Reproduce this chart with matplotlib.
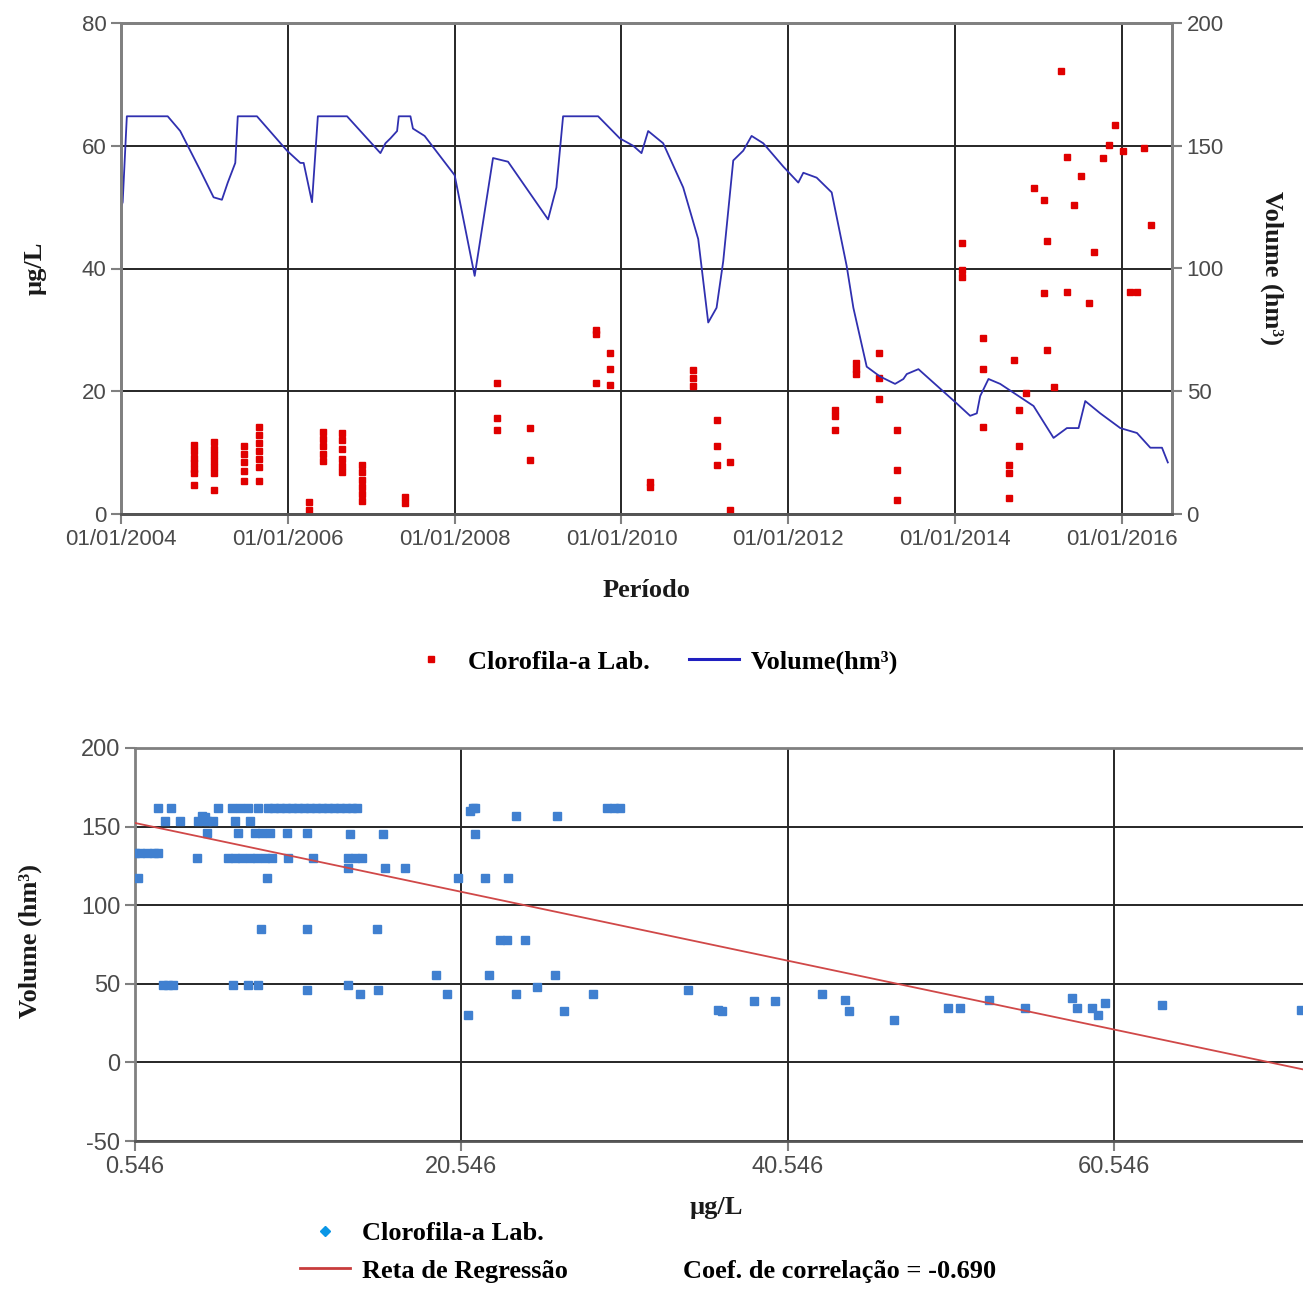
import numpy as np
import matplotlib
matplotlib.use("Agg")
import matplotlib.pyplot as plt
from matplotlib.lines import Line2D

plt.rcParams["axes.unicode_minus"] = False

# reservoir volume (hm3) along time, decimal years
vol_year = [2004.00, 2004.02, 2004.07, 2004.56, 2004.71, 2004.95, 2005.11, 2005.21, 2005.28, 2005.37,
            2005.40, 2005.63, 2005.99, 2006.15, 2006.19, 2006.29, 2006.36, 2006.71, 2007.11, 2007.17,
            2007.23, 2007.31, 2007.33, 2007.47, 2007.50, 2007.64, 2008.00, 2008.24, 2008.46, 2008.64,
            2009.12, 2009.22, 2009.30, 2009.72, 2009.98, 2010.14, 2010.24, 2010.32, 2010.50, 2010.74,
            2010.92, 2011.04, 2011.14, 2011.22, 2011.34, 2011.46, 2011.56, 2011.70, 2011.94, 2012.12,
            2012.18, 2012.34, 2012.52, 2012.70, 2012.78, 2012.94, 2013.10, 2013.28, 2013.38, 2013.42,
            2013.56, 2014.02, 2014.18, 2014.26, 2014.30, 2014.40, 2014.54, 2014.94, 2015.18, 2015.34,
            2015.48, 2015.56, 2015.74, 2015.98, 2016.18, 2016.34, 2016.48, 2016.55]
volume = [125, 127, 162, 162, 156, 140, 129, 128, 135, 143,
          162, 162, 148, 143, 143, 127, 162, 162, 147, 151,
          153, 156, 162, 162, 157, 154, 138, 97, 145, 143.5,
          120, 133, 162, 162, 153, 150, 147, 156, 151, 133,
          112, 78, 84, 103, 144, 148, 154, 151, 141.5, 135,
          139, 137, 131, 101, 84, 60, 56, 53, 55, 57,
          59, 45, 40, 41, 48, 55, 53, 44, 31, 35,
          35, 46, 41, 35, 33, 27, 27, 21]

# lab chlorophyll-a samples (ug/L)
clor_year = ([2004.87] * 7 + [2005.11] * 7 + [2005.47] * 5 + [2005.65] * 7 + [2006.25] * 2
             + [2006.42] * 5 + [2006.65] * 6 + [2006.89] * 6 + [2007.41] * 2
             + [2008.51] * 3 + [2008.90] * 2 + [2009.69] * 3 + [2009.86] * 3 + [2010.34] * 2
             + [2010.86] * 3 + [2011.14] * 3 + [2011.30] * 2 + [2012.56] * 3 + [2012.81] * 3
             + [2013.09] * 3 + [2013.30] * 3 + [2014.08] * 3 + [2014.33] * 3 + [2014.64] * 3
             + [2014.70, 2014.77, 2014.77, 2014.85, 2014.94, 2015.06, 2015.06, 2015.10, 2015.10,
                2015.18, 2015.27, 2015.34, 2015.34, 2015.42, 2015.51, 2015.60, 2015.67, 2015.77,
                2015.85, 2015.92, 2016.01, 2016.10, 2016.18, 2016.27, 2016.35])
clor = ([11.2, 10.2, 9.2, 8.3, 7.4, 6.6, 4.8] + [11.8, 10.6, 9.6, 8.6, 7.6, 6.6, 3.9]
        + [11.0, 9.8, 8.5, 7.0, 5.4] + [14.2, 12.8, 11.5, 10.2, 9.0, 7.6, 5.4] + [1.9, 0.6]
        + [13.4, 12.2, 11.0, 9.7, 8.6] + [13.2, 12.0, 10.6, 9.0, 7.9, 6.8]
        + [8.0, 6.8, 5.6, 4.4, 3.2, 2.1] + [2.8, 1.8]
        + [21.3, 15.6, 13.7] + [14.0, 8.8] + [30.0, 29.4, 21.3] + [26.2, 23.7, 21.0] + [5.2, 4.4]
        + [23.5, 22.2, 20.8] + [15.3, 11.0, 8.0] + [8.4, 0.7] + [17.0, 16.0, 13.7]
        + [24.6, 23.6, 22.8] + [26.2, 22.1, 18.8] + [13.7, 7.2, 2.3] + [44.1, 39.8, 38.6]
        + [28.6, 23.7, 14.2] + [8.0, 6.6, 2.6]
        + [25.1, 16.9, 11.0, 19.7, 53.1, 51.2, 36.0, 44.4, 26.7,
           20.7, 72.1, 58.2, 36.1, 50.3, 55.1, 34.3, 42.7, 58.0,
           60.1, 63.4, 59.2, 36.2, 36.2, 59.6, 47.1])

# volume against chlorophyll for each sample
disp_clor = ([1.96, 2.75, 5.63, 6.49, 6.98, 7.47, 8.08, 8.70, 9.06, 9.43, 9.80, 10.17, 10.53, 10.90,
              11.27, 11.64, 12.00, 12.37, 12.74, 13.11, 13.47, 13.84, 14.15, 21.26, 29.47, 29.90, 30.26]
             + [21.10, 21.38, 4.65, 4.84, 23.89, 26.40]
             + [2.38, 3.30, 4.41, 4.96, 5.33, 6.67, 7.59]
             + [4.96, 6.86, 7.90, 8.33, 8.82, 9.86, 11.09, 13.72, 15.74, 21.38]
             + [0.55, 0.85, 1.28, 1.71, 1.96]
             + [4.35, 6.24, 6.67, 7.10, 7.59, 8.02, 8.51, 8.94, 9.92, 11.45, 13.60, 14.03, 14.46]
             + [13.60, 15.87, 17.09] + [0.73, 8.63, 20.34, 21.99, 23.40] + [8.27, 11.09, 15.37]
             + [22.91, 23.34, 24.44] + [18.99, 22.24, 26.28]
             + [2.26, 2.57, 2.87, 6.55, 7.47, 8.08, 13.60, 25.18] + [11.09, 15.44, 34.43]
             + [14.33, 19.66, 23.89, 28.61, 42.64] + [20.95, 26.83]
             + [36.27, 36.51, 38.47, 39.76, 44.05, 44.30, 47.05, 50.36, 51.10, 52.87, 55.08,
                57.96, 58.27, 59.19, 59.55, 59.98, 63.47, 71.99])
disp_vol = ([162] * 27
            + [160, 162, 157, 156, 157, 157]
            + [153.5] * 7
            + [146] * 7 + [145] * 3
            + [133] * 5
            + [130] * 13
            + [123.7] * 3 + [117] * 5 + [84.7] * 3
            + [78] * 3 + [55.6] * 3
            + [49.5] * 7 + [48] + [46] * 3
            + [43.5] * 5 + [30.2, 32.7]
            + [33.3, 33.0, 39.3, 39.3, 40, 33, 27, 34.4, 34.4, 40, 34.4,
               40.7, 34.4, 34.4, 30.2, 37.6, 36.5, 33.3])

# regression line
reg_slope = -2.19
reg_intercept = 153.5
coef_corr = -0.690

year_ticks = [2004, 2006, 2008, 2010, 2012, 2014, 2016]

label_font = dict(family="Liberation Serif", weight="bold", size=19, color="#1a1a1a")
tick_gray = "#808080"
grid_col = "#262626"

fig = plt.figure(figsize=(13.03, 12.93), dpi=100)


def style_axes(ax, labelsize):
    ax.grid(True, color=grid_col, linewidth=1.4)
    ax.set_axisbelow(True)
    for side in ["left", "top", "right"]:
        ax.spines[side].set_color(tick_gray)
        ax.spines[side].set_linewidth(2)
    ax.spines["bottom"].set_color("#555555")
    ax.spines["bottom"].set_linewidth(2)
    ax.tick_params(direction="out", length=7, width=1.5, color=tick_gray,
                   labelcolor="#4a4a4a", labelsize=labelsize)
    for lab in ax.get_xticklabels() + ax.get_yticklabels():
        lab.set_family("Liberation Sans")


# --- time series ---
ax1 = fig.add_axes([121 / 1303, 1 - 514 / 1293, 1051 / 1303, 491 / 1293])
ax2 = ax1.twinx()

ax1.plot(clor_year, clor, "s", color="#e00000", markersize=5, linestyle="none", zorder=3)
ax2.plot(vol_year, volume, color="#3030b0", linewidth=1.3)

ax1.set_xlim(2004.0, 2016.6)
ax1.set_ylim(0, 80)
ax1.set_yticks(range(0, 81, 20))
ax1.set_xticks(year_ticks)
ax1.set_xticklabels(["01/01/%d" % y for y in year_ticks])
ax2.set_ylim(0, 200)
ax2.set_yticks(range(0, 201, 50))
style_axes(ax1, 16)
style_axes(ax2, 16)
ax2.grid(False)
ax2.spines["right"].set_color(tick_gray)

ax1.set_xlabel("Período", **label_font)
ax1.xaxis.label.set_va("center")
ax1.xaxis.set_label_coords(0.5, -0.155)
ax1.set_ylabel("µg/L", **label_font)
ax1.yaxis.label.set_va("center")
ax1.yaxis.set_label_coords(-0.082, 0.5)
ax2.set_ylabel("Volume (hm³)", rotation=270, **label_font)
ax2.yaxis.label.set_va("center")
ax2.yaxis.set_label_coords(1.095, 0.5)

top_handles = [
    Line2D([], [], marker="s", color="#e00000", linestyle="none", markersize=4),
    Line2D([], [], color="#2020c0", linewidth=2.2),
]
fig.legend(top_handles, ["Clorofila-a Lab.", "Volume(hm³)"], loc="center",
           bbox_to_anchor=(652 / 1303, 1 - 662 / 1293), ncol=2, frameon=False,
           prop=dict(family="Liberation Serif", weight="bold", size=19),
           handlelength=1.9, handletextpad=0.45, columnspacing=1.5)

# --- dispersion volume x chlorophyll ---
ax3 = fig.add_axes([135 / 1303, 1 - 1141 / 1293, 1 - 135 / 1303, 393 / 1293])
ax3.plot(disp_clor, disp_vol, "s", color="#4080d0", markersize=6, linestyle="none", zorder=3)

x_min, x_max = 0.546, 72.12
reg_x = np.array([x_min, x_max])
ax3.plot(reg_x, reg_intercept + reg_slope * reg_x, color="#d04848", linewidth=1.3, zorder=4)

ax3.set_xlim(x_min, x_max)
ax3.set_ylim(-50, 200)
ax3.set_xticks([0.546, 20.546, 40.546, 60.546])
ax3.set_xticklabels(["0.546", "20.546", "40.546", "60.546"])
ax3.set_yticks(range(-50, 201, 50))
style_axes(ax3, 17)
ax3.spines["right"].set_visible(False)

ax3.set_xlabel("µg/L", **label_font)
ax3.xaxis.label.set_va("center")
ax3.xaxis.set_label_coords(0.498, -0.168)
ax3.set_ylabel("Volume (hm³)", **label_font)
ax3.yaxis.label.set_va("center")
ax3.yaxis.set_label_coords(-0.09, 0.51)

blank = Line2D([], [], linestyle="none")
bottom_handles = [
    Line2D([], [], marker="D", color="#0a96e6", linestyle="none", markersize=5),
    Line2D([], [], color="#c83c3c", linewidth=2.0),
    blank,
    blank,
]
bottom_labels = ["Clorofila-a Lab.", "Reta de Regressão", "",
                 "Coef. de correlação = %.3f" % coef_corr]
fig.legend(bottom_handles, bottom_labels, loc="center",
           bbox_to_anchor=(648 / 1303, 1 - 1252 / 1293), ncol=2, frameon=False,
           prop=dict(family="Liberation Serif", weight="bold", size=19),
           handlelength=1.9, handletextpad=0.45, columnspacing=2.0, labelspacing=0.55)

fig.savefig("out.png", dpi=100)
